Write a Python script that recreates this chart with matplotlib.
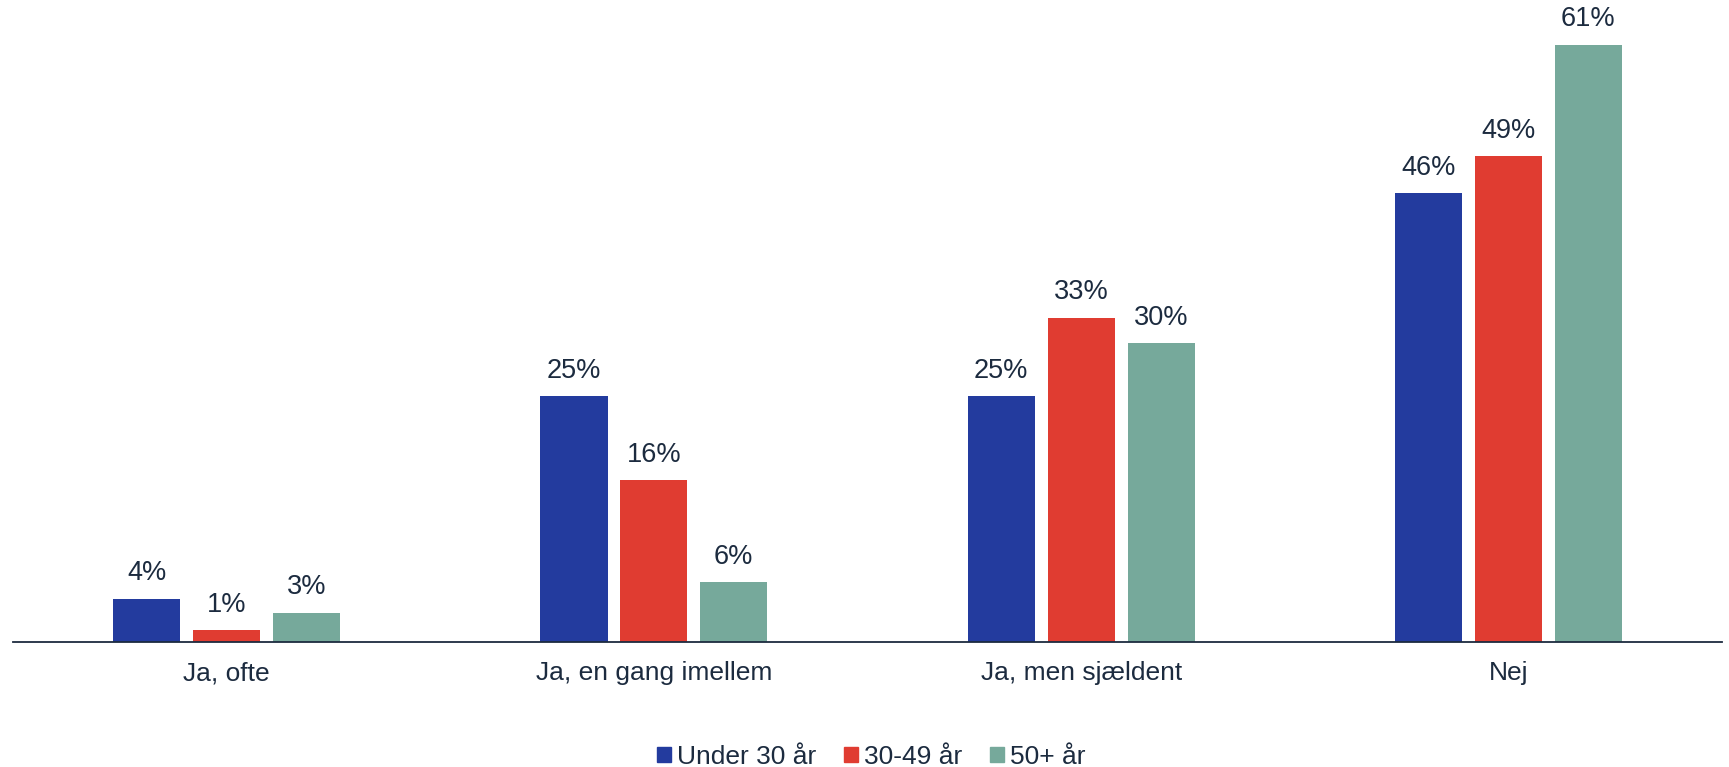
import numpy as np
import matplotlib.pyplot as plt
from matplotlib.patches import Patch

plt.rcParams['font.family'] = ['Liberation Sans', 'DejaVu Sans']

categories = ['Ja, ofte', 'Ja, en gang imellem', 'Ja, men sjældent', 'Nej']
series = ['Under 30 år', '30-49 år', '50+ år']
# bar heights, labels are the rounded values
under30 = [4.4, 25.1, 25.1, 45.8]
age30_49 = [1.2, 16.5, 33.1, 49.6]
age50 = [3.0, 6.1, 30.5, 61.0]
lab_under30 = [4, 25, 25, 46]
lab_30_49 = [1, 16, 33, 49]
lab_50 = [3, 6, 30, 61]

colors = ['#233B9E', '#E03C31', '#76A99B']
txt = '#1C2B3F'

fig = plt.figure(figsize=(17.29, 7.67), dpi=100)
ax = fig.add_axes([0.0075, 0.163, 0.9885, 0.83])

x = np.arange(len(categories))
w = 0.157
step = 0.187
for i, (vals, labs, c) in enumerate(zip([under30, age30_49, age50],
                                        [lab_under30, lab_30_49, lab_50], colors)):
    pos = x + (i - 1) * step
    bars = ax.bar(pos, vals, width=w, color=c)
    for b, v, l in zip(bars, vals, labs):
        ax.annotate(f'{l}%', (b.get_x() + b.get_width() / 2, v),
                    xytext=(0, 9), textcoords='offset points',
                    ha='center', va='bottom', fontsize=19.5, color=txt)

ax.set_xlim(-0.5, 3.5)
ax.set_ylim(0, 65)
ax.set_xticks(x)
ax.set_xticklabels(categories, fontsize=19, color=txt)
ax.tick_params(axis='x', length=0, pad=14)
ax.set_yticks([])
for s in ['top', 'right', 'left']:
    ax.spines[s].set_visible(False)
ax.spines['bottom'].set_color(txt)
ax.spines['bottom'].set_linewidth(1.3)

handles = [Patch(color=c, label=s) for c, s in zip(colors, series)]
fig.legend(handles=handles, loc='center', bbox_to_anchor=(0.504, 0.013),
           ncol=3, frameon=False, fontsize=19, handlelength=0.53, handleheight=0.53,
           handletextpad=0.23, columnspacing=1.06, labelcolor=txt)

fig.savefig('out.png', dpi=100)
